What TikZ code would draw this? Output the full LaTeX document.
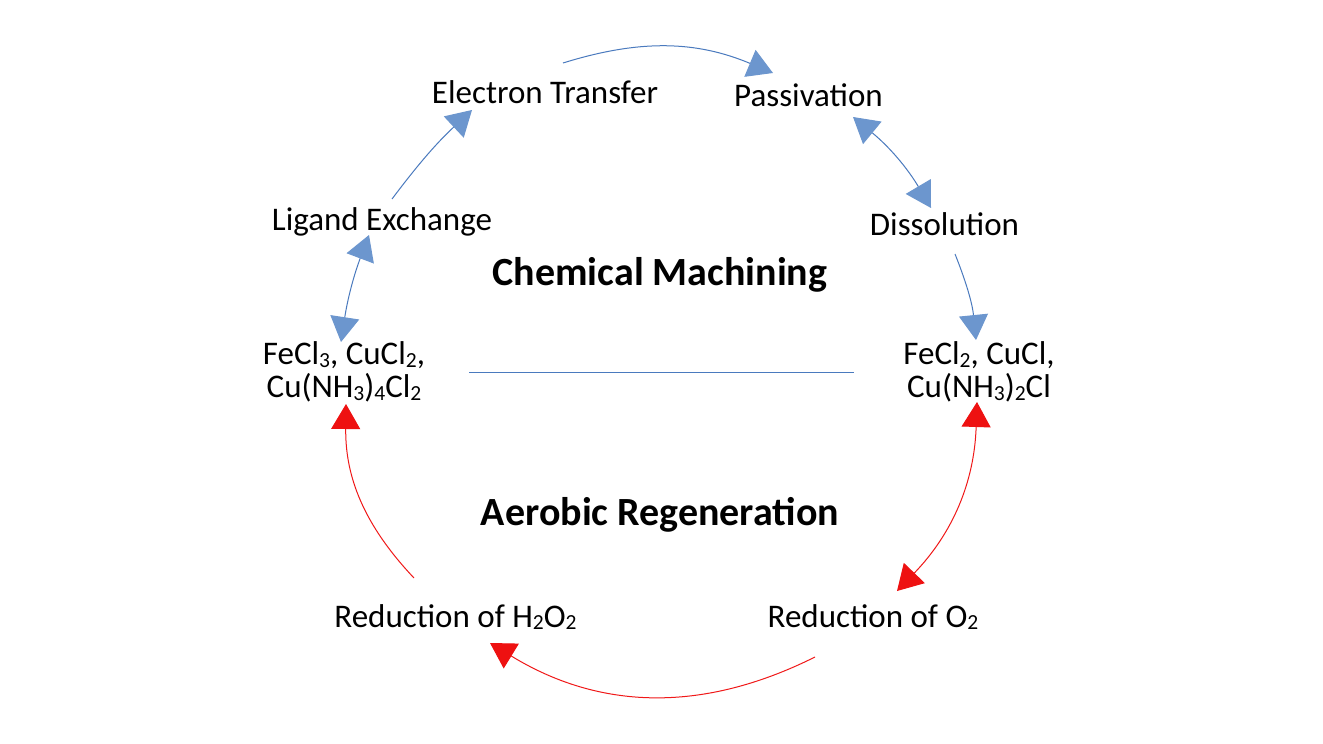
\documentclass[tikz,border=0pt]{standalone}
\usepackage{fontspec}
\setmainfont{Carlito}
\usetikzlibrary{arrows.meta}
\definecolor{bline}{RGB}{74,122,190}
\definecolor{bfill}{RGB}{108,150,206}
\definecolor{rline}{RGB}{240,24,24}
\definecolor{rfill}{RGB}{238,17,17}
\newcommand\chemsub[1]{\raisebox{-2.5pt}{\fontsize{21.5}{21.5}\selectfont #1}}
\tikzset{
  bhead/.tip={Triangle[length=25pt,width=29pt,color=bfill]},
  rhead/.tip={Triangle[length=25pt,width=29pt,color=rfill]},
}
\begin{document}
\begin{tikzpicture}[x=1pt,y=-1pt,
  lbl/.style={font=\fontsize{33}{33}\selectfont, inner sep=0pt, anchor=base},
  ttl/.style={font=\fontsize{40}{44}\selectfont\bfseries, inner sep=0pt, anchor=base},
  chem/.style={font=\fontsize{33}{33}\selectfont, inner sep=0pt, align=center, anchor=center},
  bconn/.style={draw=bline, line width=1pt},
  rconn/.style={draw=rline, line width=1pt},
]
\fill[white] (0,0) rectangle (1323,744);
\useasboundingbox (0,0) rectangle (1323,744);

% nodes
\node[lbl] (et) at (545,103) {Electron Transfer};
\node[lbl] (pa) at (808.5,106) {Passivation};
\node[lbl] (di) at (944.5,235) {Dissolution};
\node[lbl] (le) at (382,230) {Ligand Exchange};
\node[chem] (ox) at (344,372) {FeCl\chemsub{3}, CuCl\chemsub{2},\\Cu(NH\chemsub{3})\chemsub{4}Cl\chemsub{2}};
\node[chem] (rd) at (979,372) {FeCl\chemsub{2}, CuCl,\\Cu(NH\chemsub{3})\chemsub{2}Cl};
\node[ttl] (cm) at (660,285) {Chemical Machining};
\node[ttl] (ar) at (660,525) {Aerobic Regeneration};
\node[lbl] (rh) at (455.5,627) {Reduction of H\chemsub{2}O\chemsub{2}};
\node[lbl] (ro) at (873,627) {Reduction of O\chemsub{2}};

% blue connectors
\draw[bconn,-bhead] ([shift={(18,-40)}]et.base) to[bend left=20] ([shift={(-35.5,-33)}]pa.base);
\draw[bconn,bhead-bhead] ([shift={(44.5,11)}]pa.base) to[bend left=10] ([shift={(-13.5,-27)}]di.base);
\draw[bconn,-bhead] ([shift={(10.5,19)}]di.base) to[bend left=8] ([shift={(-3,-32)}]rd.center);
\draw[bconn,-bhead] ([shift={(10,-31)}]le.base) to[bend left=5] ([shift={(-73,7)}]et.base);
\draw[bconn,bhead-bhead] ([shift={(-13,5)}]le.base) to[bend right=6] ([shift={(-3,-30)}]ox.center);
\draw[bconn] ([shift={(125,0)}]ox.center) -- ([shift={(-125,0)}]rd.center);

% red connectors
\draw[rconn,-rhead] ([shift={(-41.5,-49)}]rh.base) to[bend left=22] ([shift={(2,32)}]ox.center);
\draw[rconn,rhead-rhead] ([shift={(-2,30)}]rd.center) to[bend left=21] ([shift={(24,-36)}]ro.base);
\draw[rconn,-rhead] ([shift={(-58,30)}]ro.base) to[bend left=29] ([shift={(34.5,16)}]rh.base);
\end{tikzpicture}
\end{document}
